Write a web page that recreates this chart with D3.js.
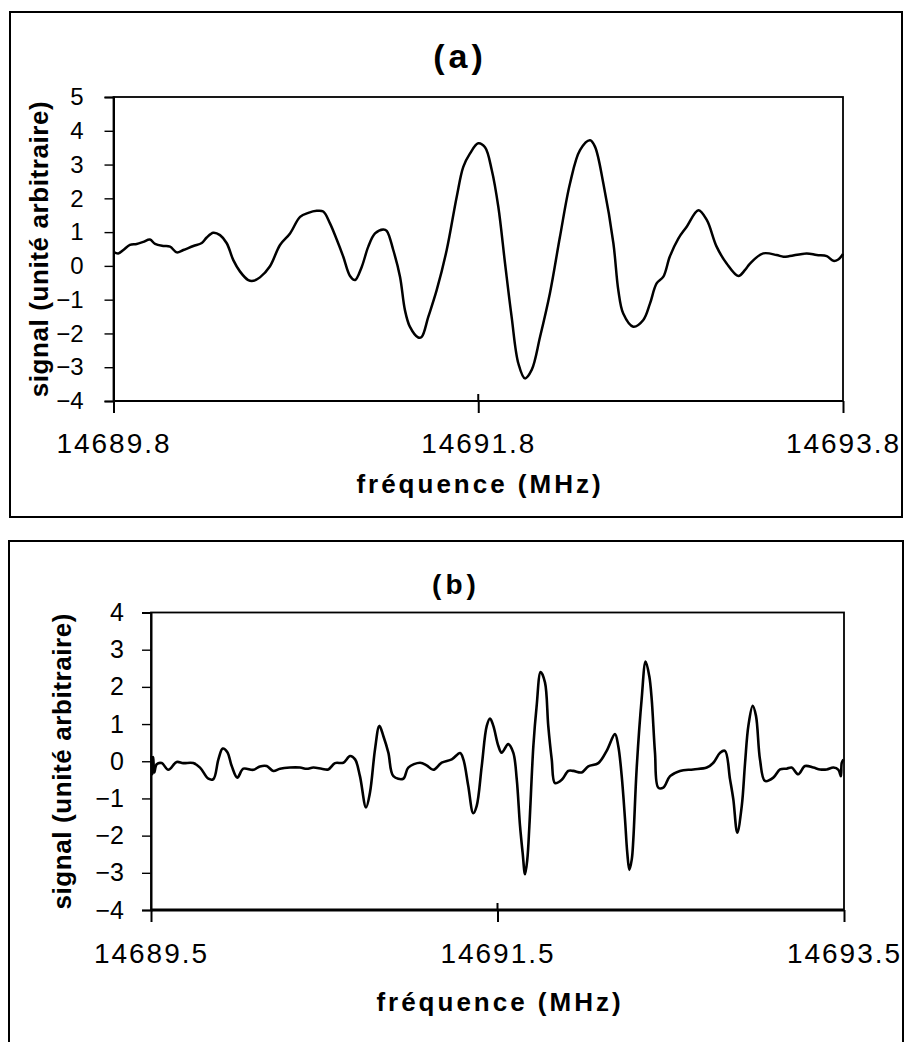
<!DOCTYPE html>
<html>
<head>
<meta charset="utf-8">
<script src="https://cdn.jsdelivr.net/npm/d3@7/dist/d3.min.js"></script>
<style>
  html, body { margin: 0; padding: 0; background: #fff; }
  svg { display: block; }
  text { font-family: "Liberation Sans", Arial, sans-serif; fill: #000; }
</style>
</head>
<body>
<svg id="chart" width="904" height="1042"></svg>
<script>
// ---------- DATA ----------
const freqA = [14689.800,14689.826,14689.854,14689.890,14689.927,14689.963,14690.000,14690.028,14690.073,14690.110,
14690.147,14690.183,14690.238,14690.284,14690.311,14690.347,14690.384,14690.421,14690.457,14690.494,
14690.539,14690.567,14690.603,14690.658,14690.713,14690.768,14690.823,14690.868,14690.914,14690.950,
14690.987,14691.024,14691.060,14691.097,14691.124,14691.161,14691.197,14691.234,14691.279,14691.298,
14691.334,14691.371,14691.398,14691.425,14691.471,14691.490,14691.526,14691.572,14691.627,14691.682,
14691.718,14691.755,14691.800,14691.837,14691.874,14691.910,14691.947,14691.983,14692.020,14692.056,
14692.093,14692.139,14692.193,14692.248,14692.303,14692.358,14692.413,14692.440,14692.486,14692.541,
14692.568,14692.595,14692.650,14692.705,14692.742,14692.778,14692.815,14692.850,14692.897,14692.943,
14693.007,14693.053,14693.107,14693.162,14693.226,14693.263,14693.290,14693.363,14693.436,14693.473,
14693.508,14693.601,14693.656,14693.711,14693.747,14693.774,14693.800];
const sigA = [0.42,0.37,0.47,0.62,0.65,0.71,0.78,0.65,0.59,0.57,
0.40,0.47,0.59,0.68,0.84,0.98,0.91,0.67,0.17,-0.17,
-0.42,-0.44,-0.34,-0.01,0.62,0.96,1.45,1.57,1.63,1.61,
1.26,0.78,0.27,-0.30,-0.42,-0.03,0.57,0.96,1.08,1.04,
0.47,-0.32,-1.31,-1.80,-2.12,-2.10,-1.51,-0.72,0.47,2.05,
2.93,3.33,3.63,3.51,2.84,1.75,0.07,-1.51,-2.89,-3.33,
-3.08,-2.10,-0.81,0.86,2.44,3.43,3.72,3.53,2.44,0.67,
-0.72,-1.41,-1.80,-1.60,-1.11,-0.52,-0.32,0.27,0.81,1.16,
1.65,1.36,0.57,0.07,-0.30,-0.12,0.07,0.37,0.32,0.27,
0.29,0.37,0.32,0.29,0.15,0.19,0.35];

const freqB = [14689.504,14689.509,14689.513,14689.519,14689.533,14689.562,14689.600,14689.648,14689.686,14689.744,
14689.783,14689.831,14689.860,14689.889,14689.914,14689.940,14689.966,14689.998,14690.033,14690.091,
14690.129,14690.168,14690.206,14690.245,14690.302,14690.360,14690.399,14690.437,14690.485,14690.523,
14690.562,14690.610,14690.649,14690.678,14690.706,14690.741,14690.764,14690.793,14690.818,14690.841,
14690.870,14690.899,14690.956,14690.985,14691.053,14691.091,14691.129,14691.178,14691.236,14691.284,
14691.303,14691.331,14691.360,14691.380,14691.409,14691.438,14691.457,14691.476,14691.505,14691.524,
14691.562,14691.591,14691.611,14691.630,14691.645,14691.659,14691.672,14691.684,14691.707,14691.726,
14691.749,14691.774,14691.793,14691.813,14691.832,14691.871,14691.909,14691.938,14691.986,14692.024,
14692.082,14692.130,14692.178,14692.197,14692.217,14692.236,14692.249,14692.261,14692.275,14692.284,
14692.303,14692.332,14692.355,14692.376,14692.390,14692.409,14692.428,14692.457,14692.496,14692.553,
14692.630,14692.708,14692.746,14692.785,14692.813,14692.842,14692.861,14692.884,14692.910,14692.929,
14692.948,14692.973,14692.992,14693.015,14693.044,14693.092,14693.131,14693.169,14693.198,14693.236,
14693.275,14693.323,14693.362,14693.400,14693.439,14693.468,14693.482,14693.487,14693.497];
const sigB = [0.14,-0.35,0.11,-0.30,-0.08,-0.05,-0.23,-0.02,-0.05,-0.05,
-0.17,-0.47,-0.48,0.05,0.34,0.25,-0.13,-0.44,-0.20,-0.23,
-0.14,-0.13,-0.26,-0.20,-0.17,-0.17,-0.20,-0.17,-0.20,-0.22,
-0.05,-0.04,0.14,0.05,-0.40,-1.24,-0.84,0.32,0.95,0.68,
0.23,-0.40,-0.47,-0.17,-0.04,-0.11,-0.23,-0.04,0.05,0.22,
0.05,-0.66,-1.40,-1.20,-0.13,0.95,1.15,0.95,0.41,0.23,
0.46,0.23,-0.48,-1.74,-2.46,-3.04,-2.64,-1.74,0.41,1.49,
2.40,2.12,0.95,0.05,-0.59,-0.50,-0.26,-0.26,-0.30,-0.14,
-0.05,0.28,0.73,0.41,-0.40,-1.56,-2.46,-2.92,-2.64,-2.10,
-0.22,1.67,2.68,2.29,1.67,0.23,-0.71,-0.71,-0.40,-0.26,
-0.22,-0.17,-0.04,0.23,0.28,-0.48,-1.02,-1.92,-1.20,-0.04,
0.95,1.49,1.22,0.05,-0.53,-0.44,-0.22,-0.20,-0.17,-0.35,
-0.13,-0.17,-0.22,-0.22,-0.17,-0.23,-0.40,-0.04,0.05];

const xTicksA = [14689.8, 14691.8, 14693.8];
const yTicksA = [5, 4, 3, 2, 1, 0, -1, -2, -3, -4];
const xTicksB = [14689.5, 14691.5, 14693.5];
const yTicksB = [4, 3, 2, 1, 0, -1, -2, -3, -4];
const titleA = "(a)", titleB = "(b)";
const xLabel = "fréquence (MHz)";
const yLabel = "signal (unité arbitraire)";

// ---------- DRAW ----------
const svg = d3.select("#chart");

function panel(cfg) {
  const g = svg.append("g");
  g.append("rect").attr("x", cfg.frame[0]).attr("y", cfg.frame[1])
    .attr("width", cfg.frame[2] - cfg.frame[0]).attr("height", cfg.frame[3] - cfg.frame[1])
    .attr("fill", "none").attr("stroke", "#000").attr("stroke-width", 2);

  const x = d3.scaleLinear().domain(cfg.xDomain).range([cfg.left, cfg.right]);
  const y = d3.scaleLinear().domain(cfg.yDomain).range([cfg.bottom, cfg.top]);

  g.append("rect").attr("x", cfg.left).attr("y", cfg.top)
    .attr("width", cfg.right - cfg.left).attr("height", cfg.bottom - cfg.top)
    .attr("fill", "none").attr("stroke", "#000").attr("stroke-width", 1.8);
  g.append("line").attr("x1", cfg.left).attr("x2", cfg.right)
    .attr("y1", cfg.bottom).attr("y2", cfg.bottom)
    .attr("stroke", "#000").attr("stroke-width", cfg.bottomW);

  const ya = g.append("g").attr("transform", `translate(${cfg.left},0)`)
    .call(d3.axisLeft(y).tickValues(cfg.yTicks).tickSize(9).tickPadding(cfg.yPad)
      .tickFormat(d3.format("d")));
  ya.select(".domain").attr("stroke-width", 2);
  ya.selectAll(".tick line").attr("stroke-width", 1.4);
  ya.selectAll(".tick text").style("font-size", cfg.yFont + "px")
    .style("font-family", '"Liberation Sans", Arial, sans-serif').attr("fill", "#000");

  const xa = g.append("g").attr("transform", `translate(0,${cfg.bottom})`)
    .call(d3.axisBottom(x).tickValues(cfg.xTicks).tickSize(12).tickPadding(cfg.xPad)
      .tickFormat(d3.format(".1f")));
  xa.select(".domain").remove();
  xa.selectAll(".tick line").attr("stroke-width", 2);
  xa.selectAll(".tick text").style("font-size", "28px").style("letter-spacing", "2px")
    .style("font-family", '"Liberation Sans", Arial, sans-serif').attr("fill", "#000");
  g.selectAll(".innertick").data(cfg.xTicks.slice(1, -1)).enter().append("line")
    .attr("x1", d => x(d)).attr("x2", d => x(d))
    .attr("y1", cfg.bottom - 7).attr("y2", cfg.bottom)
    .attr("stroke", "#000").attr("stroke-width", 2);

  const pts = cfg.xs.map((v, i) => [v, cfg.ys[i]]);
  g.append("path").datum(pts)
    .attr("d", d3.line().x(d => x(d[0])).y(d => y(d[1])).curve(d3.curveCatmullRom.alpha(0.5)))
    .attr("fill", "none").attr("stroke", "#000").attr("stroke-width", cfg.lineW)
    .attr("stroke-linejoin", "round");

  g.append("text").attr("x", cfg.titleX).attr("y", cfg.titleY)
    .attr("text-anchor", "middle").style("font-weight", "bold")
    .style("font-size", cfg.titleFont + "px").style("letter-spacing", cfg.titleLS + "px")
    .text(cfg.title);
  g.append("text").attr("x", cfg.xLabX).attr("y", cfg.xLabY)
    .attr("text-anchor", "middle").style("font-weight", "bold")
    .style("font-size", "26px").style("letter-spacing", "3px")
    .text(xLabel);
  g.append("text")
    .attr("transform", `translate(${cfg.yLabX},${(cfg.top + cfg.bottom) / 2}) rotate(-90)`)
    .attr("text-anchor", "middle").style("font-weight", "bold")
    .style("font-size", "26px").style("letter-spacing", "0.6px")
    .text(yLabel);
}

panel({
  frame: [10, 12, 902, 517],
  left: 113.5, right: 843, top: 97, bottom: 401,
  xDomain: [14689.8, 14693.8], yDomain: [-4, 5],
  xTicks: xTicksA, yTicks: yTicksA, xs: freqA, ys: sigA,
  yPad: 21, yFont: 24, xPad: 20, bottomW: 2, lineW: 2.5,
  title: titleA, titleX: 460, titleY: 68, titleFont: 34, titleLS: 4,
  xLabX: 480, xLabY: 493, yLabX: 48
});

panel({
  frame: [9, 541, 903, 1060],
  left: 151, right: 844, top: 612.5, bottom: 910,
  xDomain: [14689.5, 14693.5], yDomain: [-4, 4],
  xTicks: xTicksB, yTicks: yTicksB, xs: freqB, ys: sigB,
  yPad: 18, yFont: 25, xPad: 21, bottomW: 2.8, lineW: 2.6,
  title: titleB, titleX: 456, titleY: 594, titleFont: 28, titleLS: 4,
  xLabX: 500, xLabY: 1011, yLabX: 71
});
</script>
</body>
</html>
